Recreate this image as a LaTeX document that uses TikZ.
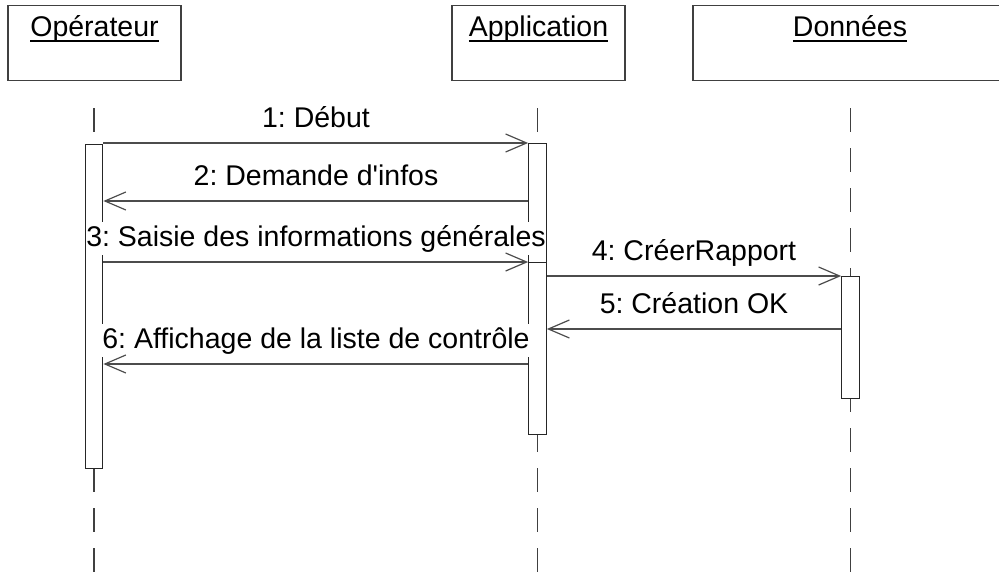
\documentclass[tikz,border=0pt]{standalone}
\usepackage{fontspec}
\setmainfont{Liberation Sans}
% same face without the TeX quote mapping, so ' stays straight
\newfontfamily\diagfont{Liberation Sans}
\usetikzlibrary{arrows.meta}
\frenchspacing
% underlined word with a fixed rule below the baseline
\newcommand{\ulword}[1]{\setbox0\hbox{#1}\rlap{\rule[-5pt]{\wd0}{1.3pt}}\box0}

\begin{document}
\begin{tikzpicture}[x=1pt,y=-1pt,
  every node/.style={font=\diagfont\fontsize{28.5}{32}\selectfont},
  head/.style={draw=black!75, line width=1.3pt, fill=white, anchor=north,
    inner sep=0pt, minimum height=75pt, text height=31pt, text depth=44pt},
  lifeline/.style={draw=black!75, line width=1.2pt, dash pattern=on 24pt off 16pt},
  bar/.style={draw=black!85, line width=1.2pt, fill=white, anchor=north,
    minimum width=17.5pt, inner sep=0pt},
  msg/.style={draw=black!70, line width=1.2pt,
    -{Straight Barb[length=21pt,width=18pt,line width=1.2pt]}},
  msglabel/.style={anchor=base, fill=white, inner xsep=0pt, inner ysep=3pt}
]
\useasboundingbox (0,0) rectangle (999,571);
\begin{scope}
\clip (0,0) rectangle (999,571);

% object heads
\node[head, minimum width=173pt] (op) at (94.5,5) {\ulword{Opérateur}};
\node[head, minimum width=173pt] (ap) at (538.5,5) {\ulword{Application}};
\node[head, minimum width=314pt] (do) at (850,5) {\ulword{Données}};

% lifelines
\coordinate (opT) at (94,108);   \coordinate (opB) at (94,580);
\coordinate (apT) at (537.5,108); \coordinate (apB) at (537.5,580);
\coordinate (doT) at (850.5,108); \coordinate (doB) at (850.5,580);
\draw[lifeline] (opT) -- (opB);
\draw[lifeline] (apT) -- (apB);
\draw[lifeline] (doT) -- (doB);

% activation bars
\node[bar, minimum height=324pt] (opbar) at (94,144) {};
\node[bar, minimum height=119pt] (apbar1) at (537.5,143) {};
\node[bar, minimum height=172pt] (apbar2) at (537.5,262) {};
\node[bar, minimum height=122pt] (dobar) at (850.5,276) {};

% message levels
\coordinate (y1) at (0,143);
\coordinate (y2) at (0,201);
\coordinate (y3) at (0,262);
\coordinate (y4) at (0,276);
\coordinate (y5) at (0,329);
\coordinate (y6) at (0,364);

% message labels
\node[msglabel] (l1) at (316,127) {1: Début};
\node[msglabel] (l2) at (316,185) {2: Demande d'infos};
\node[msglabel] (l3) at (316,246) {3: Saisie des informations générales};
\node[msglabel] (l4) at (694,260) {4: CréerRapport};
\node[msglabel] (l5) at (694,313) {5: Création OK};
\node[msglabel] (l6) at (316,348) {6: Affichage de la liste de contrôle};

% messages
\draw[msg] (opbar.east |- y1) -- (apbar1.west |- y1);
\draw[msg] (apbar1.west |- y2) -- (opbar.east |- y2);
\draw[msg] (opbar.east |- y3) -- (apbar2.west |- y3);
\draw[msg] (apbar2.east |- y4) -- (dobar.west |- y4);
\draw[msg] (dobar.west |- y5) -- (apbar2.east |- y5);
\draw[msg] (apbar2.west |- y6) -- (opbar.east |- y6);
\end{scope}
\end{tikzpicture}
\end{document}
